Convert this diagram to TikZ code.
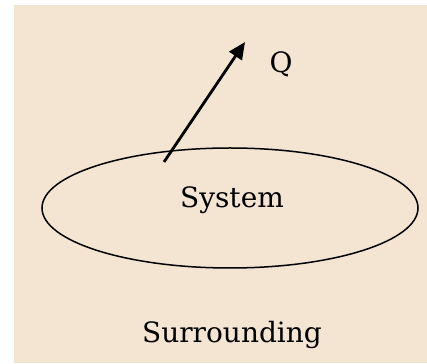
\documentclass[tikz,border=0pt]{standalone}
\usepackage{fontspec}
\setmainfont{DejaVu Serif}
\usetikzlibrary{arrows.meta, positioning, shapes.geometric}
\definecolor{sand}{HTML}{F4E4D2}
\tikzset{
  bound/.style={draw, ellipse, line width=1.5pt, minimum width=376pt, minimum height=120pt},
  lbl/.style={font=\fontsize{28}{31}\selectfont, inner sep=0pt},
  heat/.style={-{Triangle[length=17pt, width=15pt]}, line width=2.8pt},
}
\begin{document}
\begin{tikzpicture}[x=1pt, y=1pt]
  \fill[white] (0,0) rectangle (427,363);
  \fill[sand] (14,0) rectangle (427,358);
  \node[bound] (sys) at (230,155) {};
  \node[lbl, anchor=base] (systxt) at (232,155) {System};
  \node[lbl, anchor=base] (surr) at (232,20) {Surrounding};
  \coordinate (src) at (164,201);
  \coordinate (tip) at (245,321);
  \draw[heat] (src) -- (tip);
  \node[lbl, anchor=base] (q) at (281,290) {Q};
\end{tikzpicture}
\end{document}
